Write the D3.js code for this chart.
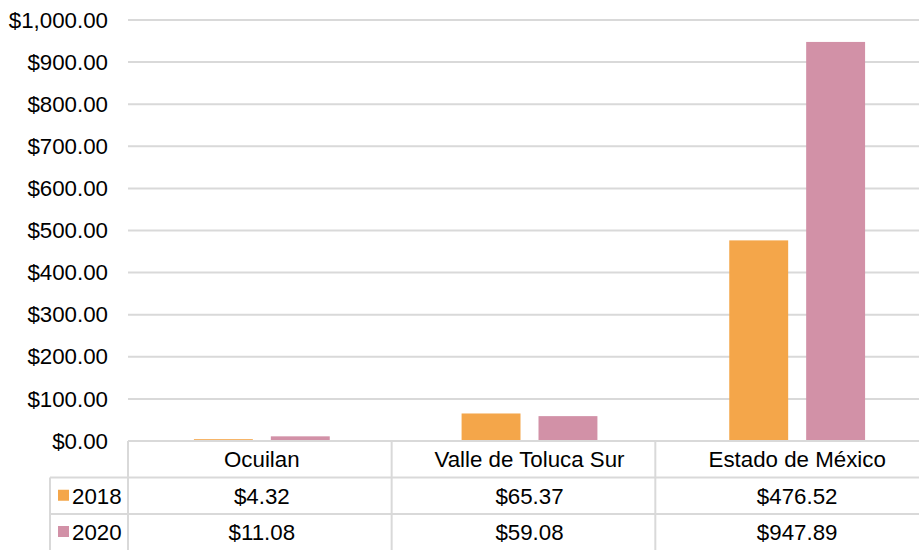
<!DOCTYPE html>
<html>
<head>
<meta charset="utf-8">
<script src="https://cdn.jsdelivr.net/npm/d3@7/dist/d3.min.js"></script>
<style>
  html, body { margin: 0; padding: 0; background: #fff; }
  svg { display: block; font-family: "Liberation Sans", Arial, sans-serif; }
</style>
</head>
<body>
<svg id="chart" width="919" height="550"></svg>
<script>
// Chart data
const categories = ["Ocuilan", "Valle de Toluca Sur", "Estado de México"];
const seriesNames = ["2018", "2020"];
const values2018 = [4.32, 65.37, 476.52];
const values2020 = [11.08, 59.08, 947.89];
const yTicks = [0, 100, 200, 300, 400, 500, 600, 700, 800, 900, 1000];
const seriesColors = ["#F4A64A", "#D291A7"];

const seriesValues = [values2018, values2020];
const rows = categories.map((c, i) => ({
  category: c,
  vals: seriesNames.map((s, j) => ({ series: s, value: seriesValues[j][i] }))
}));

const svg = d3.select("#chart");
const W = 919, H = 550;
const plotLeft = 128, plotTop = 20, plotBottom = 441;
const plotRightBars = 931;   // category bands continue past the visible edge
const rowH = 36.5;

const fmt = v => "$" + d3.format(",.2f")(v);

const y = d3.scaleLinear().domain([0, 1000]).range([plotBottom, plotTop]);
const x0 = d3.scaleBand().domain(categories).range([plotLeft, plotRightBars]).padding(0);
const x1 = d3.scaleBand().domain(seriesNames).range([0, x0.bandwidth()])
  .paddingInner(0.234).paddingOuter(0.857);
// columns of the data table
const xt = d3.scaleBand().domain(categories).range([plotLeft, W]).padding(0);

const gridColor = "#d9d9d9";
const fontSize = "22.3px";

// Gridlines and value axis labels
const yAxis = d3.axisLeft(y).tickValues(yTicks).tickFormat(fmt).tickSize(0).tickPadding(20);
const gAxis = svg.append("g").attr("transform", `translate(${plotLeft},0)`).call(yAxis);
gAxis.select(".domain").remove();
gAxis.selectAll("text")
  .attr("font-size", fontSize)
  .attr("font-family", "Liberation Sans, Arial, sans-serif")
  .attr("fill", "#000");

svg.append("g").selectAll("line").data(yTicks.filter(d => d > 0)).join("line")
  .attr("x1", plotLeft).attr("x2", W)
  .attr("y1", d => y(d)).attr("y2", d => y(d))
  .attr("stroke", gridColor).attr("stroke-width", 2);

// Bars
const gBars = svg.append("g").selectAll("g").data(rows).join("g")
  .attr("transform", d => `translate(${x0(d.category)},0)`);
gBars.selectAll("rect").data(d => d.vals).join("rect")
  .attr("x", d => x1(d.series))
  .attr("width", x1.bandwidth())
  .attr("y", d => y(d.value))
  .attr("height", d => y(0) - y(d.value))
  .attr("fill", (d, i) => seriesColors[i]);

// Data table
const tbl = svg.append("g").attr("stroke", gridColor).attr("stroke-width", 2);
const r0 = plotBottom, r1 = r0 + rowH, r2 = r1 + rowH, r3 = H;
const legendLeft = 50;

tbl.append("line").attr("x1", plotLeft).attr("x2", W).attr("y1", r0).attr("y2", r0);
[r1, r2].forEach(r => {
  tbl.append("line").attr("x1", legendLeft).attr("x2", W).attr("y1", r).attr("y2", r);
});
tbl.append("line").attr("x1", legendLeft).attr("x2", legendLeft).attr("y1", r1).attr("y2", r3);
[plotLeft, xt(categories[1]), xt(categories[2])].forEach(xv => {
  tbl.append("line").attr("x1", xv).attr("x2", xv).attr("y1", r0).attr("y2", r3);
});

const txt = svg.append("g")
  .attr("font-size", fontSize)
  .attr("fill", "#000")
  .attr("text-anchor", "middle");

// category header row
txt.selectAll("text.cat").data(categories).join("text")
  .attr("class", "cat")
  .attr("x", d => x0(d) + x0.bandwidth() / 2)
  .attr("y", (r0 + r1) / 2)
  .attr("dy", "0.36em")
  .text(d => d);

// value rows
seriesNames.forEach((s, j) => {
  const rowTop = j === 0 ? r1 : r2;
  const rowBot = j === 0 ? r2 : r3;
  const cy = (rowTop + rowBot) / 2;
  txt.selectAll(`text.v${j}`).data(seriesValues[j]).join("text")
    .attr("class", `v${j}`)
    .attr("x", (d, i) => x0(categories[i]) + x0.bandwidth() / 2)
    .attr("y", cy)
    .attr("dy", "0.36em")
    .text(d => fmt(d));

  // legend key
  svg.append("rect")
    .attr("x", 58).attr("y", cy - 6)
    .attr("width", 11).attr("height", 11)
    .attr("fill", seriesColors[j]);
  svg.append("text")
    .attr("x", 72).attr("y", cy)
    .attr("dy", "0.36em")
    .attr("font-size", fontSize)
    .attr("fill", "#000")
    .text(s);
});
</script>
</body>
</html>
